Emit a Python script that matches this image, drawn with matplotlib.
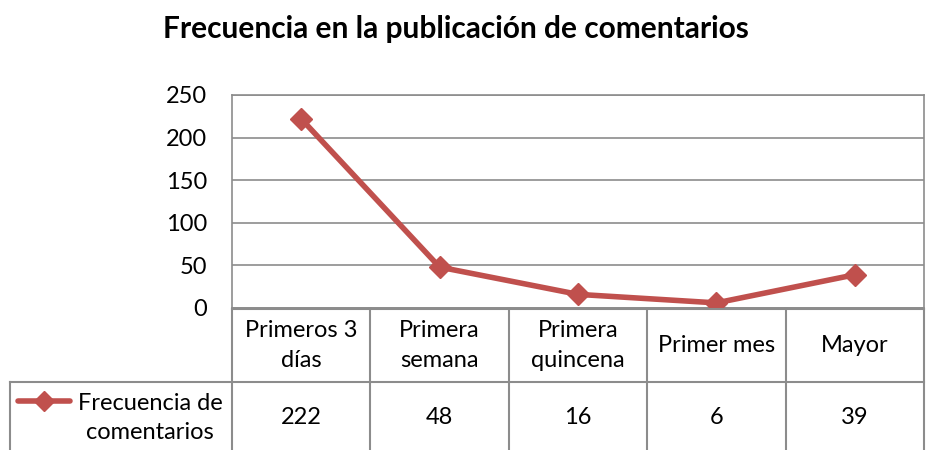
import matplotlib.pyplot as plt

categorias = ['Primeros 3\ndías', 'Primera\nsemana', 'Primera\nquincena', 'Primer mes', 'Mayor']
frecuencia = [222, 48, 16, 6, 39]
serie = 'Frecuencia de\ncomentarios'
titulo = 'Frecuencia en la publicación de comentarios'

W, H = 926, 450
rojo = '#C0504D'
gris = '#8C8C8C'
plt.rcParams['font.family'] = ['Lato', 'DejaVu Sans']

fig = plt.figure(figsize=(W / 100, H / 100), dpi=100)

# area del grafico (pixeles)
x0, x1, ytop, y0 = 232, 924, 95, 308
ax = fig.add_axes([x0 / W, 1 - y0 / H, (x1 - x0) / W, (y0 - ytop) / H])
n = len(categorias)
ax.plot(range(n), frecuencia, color=rojo, lw=4, marker='D', ms=11, zorder=3)
ax.set_xlim(-0.5, n - 0.5)
ax.set_ylim(0, 250)
ax.set_yticks(range(0, 251, 50))
ax.yaxis.grid(True, color=gris, lw=1.2)
ax.set_xticks([])
ax.tick_params(axis='y', length=0, labelsize=17, pad=18)
for s in ax.spines.values():
    s.set_color(gris)
    s.set_linewidth(1.2)

fig.text(456 / W, 1 - 29 / H, titulo, ha='center', va='center', fontsize=21.5, fontweight='bold')

# tabla de datos en coordenadas de pixel
tab = fig.add_axes([0, 0, 1, 1])
tab.set_xlim(0, W)
tab.set_ylim(H, 0)
tab.axis('off')
col_w = (x1 - x0) / n
fila1_top, fila2_top = 309, 382
kw = dict(color=gris, lw=1.5)
tab.plot([x0, x1], [fila1_top, fila1_top], **kw)
tab.plot([10, x1], [fila2_top, fila2_top], **kw)
tab.plot([10, 10], [fila2_top, H], **kw)
for i in range(n + 1):
    xc = x0 + i * col_w
    tab.plot([xc, xc], [fila1_top, H], **kw)
for i, (c, v) in enumerate(zip(categorias, frecuencia)):
    xm = x0 + (i + 0.5) * col_w
    tab.text(xm, (fila1_top + fila2_top) / 2, c, ha='center', va='center',
             fontsize=17, linespacing=1.5)
    tab.text(xm, (fila2_top + H) / 2 + 2, str(v), ha='center', va='center', fontsize=17)

# leyenda en la tabla
yl = 401
tab.plot([18, 70], [yl, yl], color=rojo, lw=4, solid_capstyle='round')
tab.plot([44], [yl], color=rojo, marker='D', ms=10)
tab.text(150, (fila2_top + H) / 2 + 2, serie, ha='center', va='center',
         fontsize=17, linespacing=1.45)

fig.savefig('out.png', dpi=100)
